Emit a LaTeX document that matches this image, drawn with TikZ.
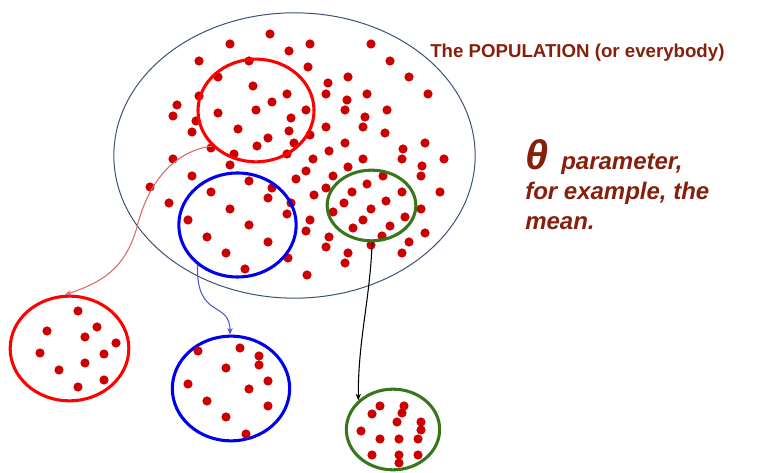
\documentclass[tikz,border=0pt]{standalone}
\usepackage{fontspec}
\setmainfont{Liberation Sans}
\usetikzlibrary{shapes.geometric,arrows.meta}
\definecolor{dotc}{HTML}{CC0000}
\definecolor{redc}{HTML}{FF0000}
\definecolor{bluec}{HTML}{0000F0}
\definecolor{greenc}{HTML}{38761D}
\definecolor{popc}{HTML}{3B5275}
\definecolor{textc}{HTML}{85200C}
\definecolor{redline}{HTML}{D96A6A}
\definecolor{blueline}{HTML}{4A58D4}
\tikzset{
  grp/.style={ellipse, draw, inner sep=0pt},
  sample/.style={grp, line width=2.3pt},
  conn/.style={line width=0.8pt, -{Stealth[length=5pt,width=4pt]}},
  lbl/.style={text=textc, font=\bfseries\itshape\fontsize{18}{22}\selectfont, anchor=base west, inner sep=0pt},
}
\begin{document}
\begin{tikzpicture}[x=0.75pt,y=-0.75pt]
\useasboundingbox (0,0) rectangle (758,473);
% population
\node[grp, draw=popc, line width=0.75pt, minimum width=271pt, minimum height=214pt] (pop) at (294.5,155.5) {};
% dots in population
\foreach \x/\y in {270/34,230/44,289/51,310/44,371/44,199/61,249/61,308/67,390/61,218/77,
253/86,328/83,348/77,409/77,177/105,173/116,199/96,287/94,272/102,326/94,347/100,367/94,428/94,
218/113,256/110,306/110,345/110,387/110,291/118,365/117,196/121,192/132,238/129,289/131,326/127,
363/127,385/133,268/138,310/135,257/146,294/143,211/148,345/143,403/149,425/143,173/159,234/154,
287/154,329/151,313/159,363/159,402/159,444/159,230/165,348/167,422/166,192/176,306/171,296/179,
333/176,383/176,421/176,150/187,249/181,272/188,326/188,367/184,211/192,268/198,314/195,352/192,
402/192,440/192,169/203,291/203,344/203,386/201,230/209,287/214,333/212,371/209,421/209,188/220,
310/220,363/220,405/217,249/225,306/231,353/228,390/226,425/233,207/237,329/237,382/236,268/242,
326/247,371/245,409/242,226/253,348/253,402/253,288/258,345/263,245/269,307/275}
  \fill[dotc] (\x,\y) circle (4.6);
% samples inside
\node[sample, draw=redc, minimum width=87pt, minimum height=77pt] (redS) at (256,110.5) {};
\node[sample, draw=bluec, minimum width=88pt, minimum height=78pt] (blueS) at (237.5,225) {};
\node[sample, draw=greenc, minimum width=66.5pt, minimum height=53pt] (greenS) at (371.5,205.5) {};
% samples drawn out
\node[sample, draw=redc, minimum width=89pt, minimum height=78.5pt] (redL) at (69.5,348.5) {};
\node[sample, draw=bluec, minimum width=88pt, minimum height=78.5pt] (blueL) at (231,388.5) {};
\node[sample, draw=greenc, minimum width=70pt, minimum height=60.5pt] (greenL) at (393,429.5) {};
\foreach \x/\y in {78/311,47/331,97/327,85/337,116/343,40/353,104/354,85/363,59/370,104/380,78/387,
198/351,240/348,259/356,259/365,226/368,268/381,188/384,249/389,207/401,268/406,226/417,246/434,
380/406,404/406,372/414,402/413,397/422,421/422,421/430,418/439,361/431,380/439,399/439,
372/455,399/455,418/455,399/463}
  \fill[dotc] (\x,\y) circle (4.6);
% connectors
\draw[conn, redline] (redS.219) .. controls (180,150) and (150,175) .. (137,227)
  .. controls (125,270) and (100,283) .. (redL.95);
\draw[conn, blueline] (blueS.225) .. controls (196,320) and (230,300) .. (blueL.91);
\draw[conn, black] (greenS.271) .. controls (370,300) and (358,340) .. (greenL.140);
% texts
\node[text=textc, font=\bfseries\fontsize{14}{16}\selectfont, anchor=base west, inner sep=0pt] (poplbl) at (430,58) {The POPULATION (or everybody)};
\node[lbl, font=\bfseries\itshape\fontsize{31}{31}\selectfont] (theta) at (525,170) {θ};
\node[lbl] (l1) at (561,170) {parameter,};
\node[lbl] (l2) at (525,200) {for example, the};
\node[lbl] (l3) at (525,230) {mean.};
\end{tikzpicture}
\end{document}
